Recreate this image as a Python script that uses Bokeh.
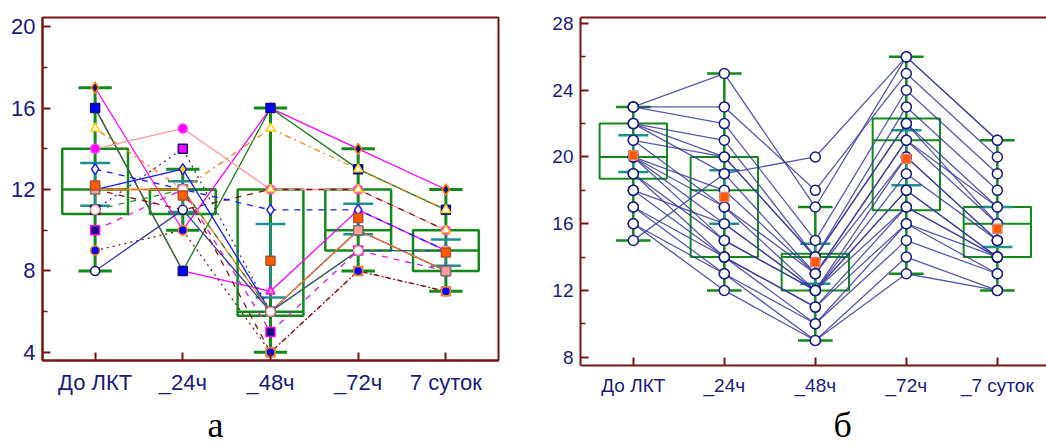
from bokeh.plotting import figure
from bokeh.models import Range1d, FixedTicker, LinearAxis, Title
from bokeh.layouts import row
from bokeh.embed import file_html
from bokeh.resources import INLINE

# ---------------- data ----------------
cats_a = ["До ЛКТ", "_24ч", "_48ч", "_72ч", "7 суток"]
cats_b = ["До ЛКТ", "_24ч", "_48ч", "_72ч", "_7 суток"]

# panel a: box statistics
a_wlo = [8, 10, 4, 8, 7]
a_q1 = [10.8, 10.8, 5.8, 9, 8]
a_med = [12, 12, 6, 10, 9]
a_q3 = [14, 12, 12, 12, 10]
a_whi = [17, 13, 16, 14, 12]
a_mean = [12.2, 11.7, 8.5, 10.6, 8.9]
a_cilo = [11.2, 10.9, 6.7, 9.8, 8.25]
a_cihi = [13.3, 12.4, 10.3, 11.3, 9.55]

# panel a: individual patients
a_subjects = [
    [16, 8, 7, 11, 9],
    [17, 10, 16, 14, 12],
    [16, 8, 16, 13, 11],
    [15, 12, 15, 13, 11],
    [14, 15, 12, 12, 10],
    [12, 11, 12, 12, 10],
    [13, 12, 11, 11, 9],
    [11, 14, 6, 10, 8],
    [12, 13, 6, 10, 8],
    [12, 12, 4, 8, 7],
    [10, 12, 5, 9, 8],
    [12, 12, 6, 10, 8],
    [9, 10, 4, 8, 7],
    [8, 11, 6, 9, 9],
    [11, 12, 6, 9, 9],
]

# panel b: box statistics
b_wlo = [15, 12, 9, 13, 12]
b_q1 = [18.7, 14, 12, 16.8, 14]
b_med = [20, 18, 14, 21, 16]
b_q3 = [22, 20, 14.2, 22.3, 17]
b_whi = [23, 25, 17, 26, 21]
b_mean = [20.1, 17.6, 13.7, 19.9, 15.7]
b_cilo = [19.1, 16, 12.4, 18.3, 14.6]
b_cihi = [21.3, 19.2, 14.8, 21.6, 17]

# panel b: individual patients
b_subjects = [
    [23, 25, 17, 26, 21],
    [23, 23, 18, 25, 20],
    [23, 22, 15, 24, 19],
    [22, 21, 14, 23, 18],
    [22, 20, 14, 22, 17],
    [22, 19, 13, 21, 17],
    [21, 20, 14, 22, 16],
    [20, 18, 13, 21, 16],
    [20, 17, 13, 20, 15],
    [20, 16, 12, 19, 15],
    [20, 15, 12, 18, 14],
    [19, 14, 11, 17, 14],
    [18, 14, 10, 16, 13],
    [17, 13, 10, 15, 13],
    [16, 13, 9, 14, 12],
    [16, 12, 9, 13, 12],
    [18, 16, 12, 17, 14],
    [17, 14, 11, 16, 14],
    [15, 19, 20, 26, 21],
    [21, 17, 12, 20, 15],
    [19, 15, 12, 18, 14],
]

captions = ["а", "б"]

# ---------------- styles ----------------
MAROON = "#7a1414"
NAVY_TXT = "#1a1a80"
GREEN = "#12891a"
TEAL = "#1f8f8f"
MEAN_FILL = "#ff5a00"

a_line_styles = [
    ("#ff00ff", "solid"), ("#ff00ff", "solid"), ("#1d7a1d", "solid"),
    ("#ff7f10", "dotdash"), ("#ff9a9a", "solid"), ("#8b1010", "dashed"),
    ("#1a1aff", "dashed"), ("#3030a0", "dotted"), ("#1a1aff", "solid"),
    ("#8b1010", "dashed"), ("#d020d0", "dashed"), ("#ff7f10", "solid"),
    ("#8b1010", "dotted"), ("#3a3aa0", "solid"), ("#2e8b2e", "dashed"),
]
a_marker_styles = [
    ("triangle", "#ff80c0", "#ff00ff"), ("diamond", "#10107a", "#ff7f10"),
    ("square", "#0000ff", "#10107a"), ("triangle", "#ffffff", "#ffd000"),
    ("circle", "#ff00ff", "#ff40ff"), ("triangle", "#ffffff", "#ffc000"),
    ("diamond", "#ffffff", "#1a1aff"), ("square", "#ff00ff", "#10107a"),
    ("diamond", "#ffd000", "#1a1aff"), ("square", "#ff6010", "#c08060"),
    ("square", "#10107a", "#ff00ff"), ("square", "#ffa0a0", "#808060"),
    ("circle", "#0000ff", "#ff8020"), ("circle", "#ffffff", "#10107a"),
    ("circle", "#ffffff", "#ff9a9a"),
]


def base_fig(cats, yr, yt, ymt, fw, fh, mbl, mbr, mbt, font_px, xr):
    p = figure(frame_width=fw, frame_height=fh, x_range=Range1d(*xr),
               y_range=Range1d(*yr), output_backend="svg", toolbar_location=None,
               min_border_left=mbl, min_border_right=mbr, min_border_top=mbt,
               min_border_bottom=0, background_fill_color="white",
               border_fill_color="white")
    p.xgrid.visible = False
    p.ygrid.visible = False
    for ax in (p.xaxis[0], p.yaxis[0]):
        ax.axis_line_color = MAROON
        ax.axis_line_width = 2
        ax.major_tick_line_color = MAROON
        ax.major_tick_line_width = 2
        ax.minor_tick_line_color = MAROON
        ax.minor_tick_line_width = 1.5
        ax.major_tick_in = 8
        ax.major_tick_out = 0
        ax.minor_tick_in = 5
        ax.minor_tick_out = 0
        ax.major_label_text_font = "Liberation Sans"
        ax.major_label_text_font_size = font_px
        ax.major_label_text_color = NAVY_TXT
    p.xaxis[0].ticker = FixedTicker(ticks=[1, 2, 3, 4, 5])
    p.xaxis[0].major_label_overrides = {i + 1: c for i, c in enumerate(cats)}
    p.yaxis[0].ticker = FixedTicker(ticks=yt, minor_ticks=ymt)
    p.yaxis[0].major_label_standoff = 7
    p.xaxis[0].major_label_standoff = 9
    return p


def draw_box(p, wlo, q1, med, q3, whi, cilo, cihi, bw, cw, tw, lw):
    xs = [1, 2, 3, 4, 5]
    p.segment(x0=xs, y0=wlo, x1=xs, y1=whi, line_color=GREEN, line_width=lw + 0.5)
    p.segment(x0=[x - cw for x in xs], y0=wlo, x1=[x + cw for x in xs], y1=wlo,
              line_color=GREEN, line_width=lw + 0.5)
    p.segment(x0=[x - cw for x in xs], y0=whi, x1=[x + cw for x in xs], y1=whi,
              line_color=GREEN, line_width=lw + 0.5)
    p.quad(left=[x - bw for x in xs], right=[x + bw for x in xs], bottom=q1, top=q3,
           fill_color=None, line_color=GREEN, line_width=lw)
    p.segment(x0=[x - bw for x in xs], y0=med, x1=[x + bw for x in xs], y1=med,
              line_color=GREEN, line_width=lw)
    p.segment(x0=xs, y0=cilo, x1=xs, y1=cihi, line_color=TEAL, line_width=2)
    p.segment(x0=[x - tw for x in xs], y0=cilo, x1=[x + tw for x in xs], y1=cilo,
              line_color=TEAL, line_width=2.5)
    p.segment(x0=[x - tw for x in xs], y0=cihi, x1=[x + tw for x in xs], y1=cihi,
              line_color=TEAL, line_width=2.5)


def caption(text, offset, standoff):
    return Title(text=text, text_font="Liberation Serif", text_font_size="36px",
                 text_font_style="normal", text_color="black", align="left",
                 offset=offset, standoff=standoff)


xs = [1, 2, 3, 4, 5]

# ---------------- panel a ----------------
p1 = base_fig(cats_a, (3.6, 20.45), [4, 8, 12, 16, 20], [6, 10, 14, 18],
              456, 343, 42, 30, 17, "22px", (0.4, 5.6))
p1.outline_line_color = MAROON
p1.outline_line_width = 2
p1.outline_line_alpha = 1
draw_box(p1, a_wlo, a_q1, a_med, a_q3, a_whi, a_cilo, a_cihi, 0.375, 0.19, 0.17, 2.5)
for vals, (lc, ld) in zip(a_subjects, a_line_styles):
    p1.line(xs, vals, line_color=lc, line_dash=ld, line_width=1.3)
for vals, (mk, fc, ec) in zip(a_subjects, a_marker_styles):
    p1.scatter(xs, vals, marker=mk, size=9 if mk != "diamond" else 11,
               fill_color=fc, line_color=ec, line_width=1.5)
p1.scatter(xs, a_mean, marker="square", size=9, fill_color=MEAN_FILL,
           line_color="#b05030", line_width=1.5)
p1.add_layout(caption(captions[0], 165, 11), "below")

# ---------------- panel b ----------------
p2 = base_fig(cats_b, (7.5, 28.36), [8, 12, 16, 20, 24, 28], [10, 14, 18, 22, 26],
              466, 348, 52, 0, 17, "19px", (0.42, 5.54))
p2.outline_line_color = None
p2.xaxis[0].major_label_standoff = 9
top_ax = LinearAxis(ticker=FixedTicker(ticks=[]), axis_line_color=MAROON,
                    axis_line_width=2, major_tick_line_color=None,
                    minor_tick_line_color=None, major_label_text_font_size="0px",
                    major_tick_in=0, major_tick_out=0, minor_tick_in=0,
                    minor_tick_out=0, major_label_standoff=0,
                    axis_label_standoff=0)
p2.add_layout(top_ax, "above")
draw_box(p2, b_wlo, b_q1, b_med, b_q3, b_whi, b_cilo, b_cihi, 0.37, 0.19, 0.165, 2)
for vals in b_subjects:
    p2.line(xs, vals, line_color="#3b3b9e", line_width=1.3, line_alpha=0.85)
for vals in b_subjects:
    p2.scatter(xs, vals, marker="circle", size=10, fill_color="white",
               line_color="#1a1a8c", line_width=1.5)
p2.scatter(xs, b_mean, marker="square", size=9, fill_color=MEAN_FILL,
           line_color="#e08070", line_width=1.5)
p2.add_layout(caption(captions[1], 253, 9), "below")

layout = row(p1, p2)
open("out.html", "w").write(file_html(layout, INLINE))
